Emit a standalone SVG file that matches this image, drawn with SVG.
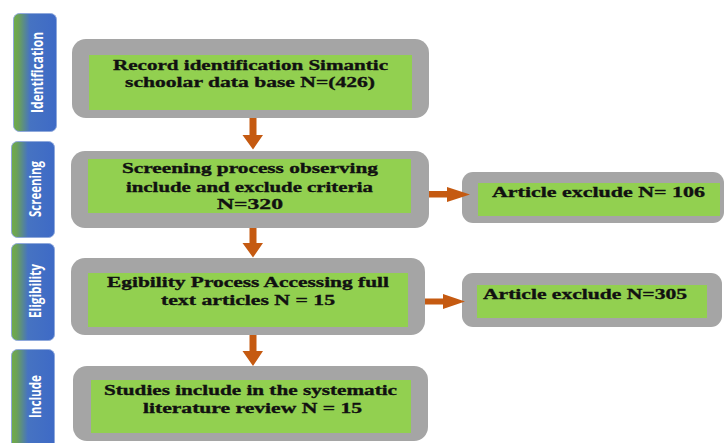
<svg xmlns="http://www.w3.org/2000/svg" width="724" height="443" viewBox="0 0 724 443">
<defs>
<linearGradient id="phase" x1="0" y1="0" x2="1" y2="0">
<stop offset="0" stop-color="#70ad47"/>
<stop offset="0.12" stop-color="#6ba158"/>
<stop offset="0.38" stop-color="#4673c2"/>
<stop offset="1" stop-color="#3e6ac6"/>
</linearGradient>
</defs>
<style>
.phase{fill:url(#phase);stroke:#8fa9dc;stroke-width:1}
.ptxt{fill:#ffffff;font-family:"Open Sans","Liberation Sans",sans-serif;font-weight:700;font-size:16px;text-anchor:middle}
.outer{fill:#a5a5a5}
.inner{fill:#92d050}
.txt{fill:#111111;stroke:#111111;stroke-width:0.35;font-family:"Liberation Serif","DejaVu Serif",serif;font-weight:bold;font-size:15px}
.arrow{fill:#c55a11}
</style>
<rect width="724" height="443" fill="#ffffff"/>

<g id="phase-identification">
<rect class="phase" x="13.5" y="13.5" width="43" height="118" rx="6"/>
<text class="ptxt" transform="translate(42.5,72.5) rotate(-90)" textLength="81" lengthAdjust="spacingAndGlyphs">Identification</text>
</g>
<g id="phase-screening">
<rect class="phase" x="11.5" y="141.5" width="43" height="96" rx="6"/>
<text class="ptxt" transform="translate(41,189) rotate(-90)" textLength="56" lengthAdjust="spacingAndGlyphs">Screening</text>
</g>
<g id="phase-eligibility">
<rect class="phase" x="11.5" y="243.5" width="43" height="97" rx="6"/>
<text class="ptxt" transform="translate(41,291) rotate(-90)" textLength="54" lengthAdjust="spacingAndGlyphs">Eligibility</text>
</g>
<g id="phase-include">
<rect class="phase" x="11.5" y="349.5" width="43" height="100" rx="6"/>
<text class="ptxt" transform="translate(41,396.5) rotate(-90)" textLength="43" lengthAdjust="spacingAndGlyphs">Include</text>
</g>

<g id="node-identification">
<rect class="outer" x="72" y="39" width="357" height="79" rx="14"/>
<rect class="inner" x="89" y="55" width="323" height="55"/>
<text class="txt" x="113" y="69.5" textLength="275" lengthAdjust="spacingAndGlyphs">Record identification Simantic</text>
<text class="txt" x="125" y="87" textLength="250" lengthAdjust="spacingAndGlyphs">schoolar data base N=(426)</text>
</g>

<g id="node-screening">
<rect class="outer" x="71" y="151" width="358" height="77" rx="14"/>
<rect class="inner" x="88" y="159" width="323" height="54"/>
<text class="txt" x="122" y="173" textLength="256" lengthAdjust="spacingAndGlyphs">Screening process observing</text>
<text class="txt" x="126" y="191.5" textLength="247" lengthAdjust="spacingAndGlyphs">include and exclude criteria</text>
<text class="txt" x="217" y="209" textLength="66" lengthAdjust="spacingAndGlyphs">N=320</text>
</g>

<g id="node-eligibility">
<rect class="outer" x="71" y="258" width="354" height="77" rx="14"/>
<rect class="inner" x="88" y="273" width="320" height="54"/>
<text class="txt" x="107" y="287" textLength="282" lengthAdjust="spacingAndGlyphs">Egibility Process Accessing full</text>
<text class="txt" x="161" y="305" textLength="174" lengthAdjust="spacingAndGlyphs">text articles N = 15</text>
</g>

<g id="node-include">
<rect class="outer" x="73" y="366" width="355" height="75" rx="14"/>
<rect class="inner" x="91" y="380" width="320" height="53"/>
<text class="txt" x="104" y="395" textLength="293" lengthAdjust="spacingAndGlyphs">Studies include in the systematic</text>
<text class="txt" x="143" y="413" textLength="219" lengthAdjust="spacingAndGlyphs">literature review N = 15</text>
</g>

<g id="node-exclude-106">
<rect class="outer" x="462" y="172" width="262" height="51" rx="11"/>
<rect class="inner" x="478" y="183" width="242" height="33"/>
<text class="txt" x="492" y="196.5" font-size="14" textLength="213" lengthAdjust="spacingAndGlyphs">Article exclude N= 106</text>
</g>

<g id="node-exclude-305">
<rect class="outer" x="462" y="273" width="260" height="54" rx="11"/>
<rect class="inner" x="477" y="285" width="230" height="33"/>
<text class="txt" x="483" y="298.5" font-size="14" textLength="204" lengthAdjust="spacingAndGlyphs">Article exclude N=305</text>
</g>

<g id="connectors">
<path class="arrow" d="M249.5,118 H256.5 V135 H263 L253,149.5 L242.5,135 H249.5 Z"/>
<path class="arrow" d="M249.5,228 H256.5 V243 H263 L253,257.5 L242.5,243 H249.5 Z"/>
<path class="arrow" d="M249.5,335 H256.5 V351 H263 L253,366 L242.5,351 H249.5 Z"/>
<path class="arrow" d="M429,191 H447 V187 L470,194.5 L447,202 V197.5 H429 Z"/>
<path class="arrow" d="M425,298.5 H443 V294 L465,301.5 L443,309 V304.5 H425 Z"/>
</g>
</svg>
